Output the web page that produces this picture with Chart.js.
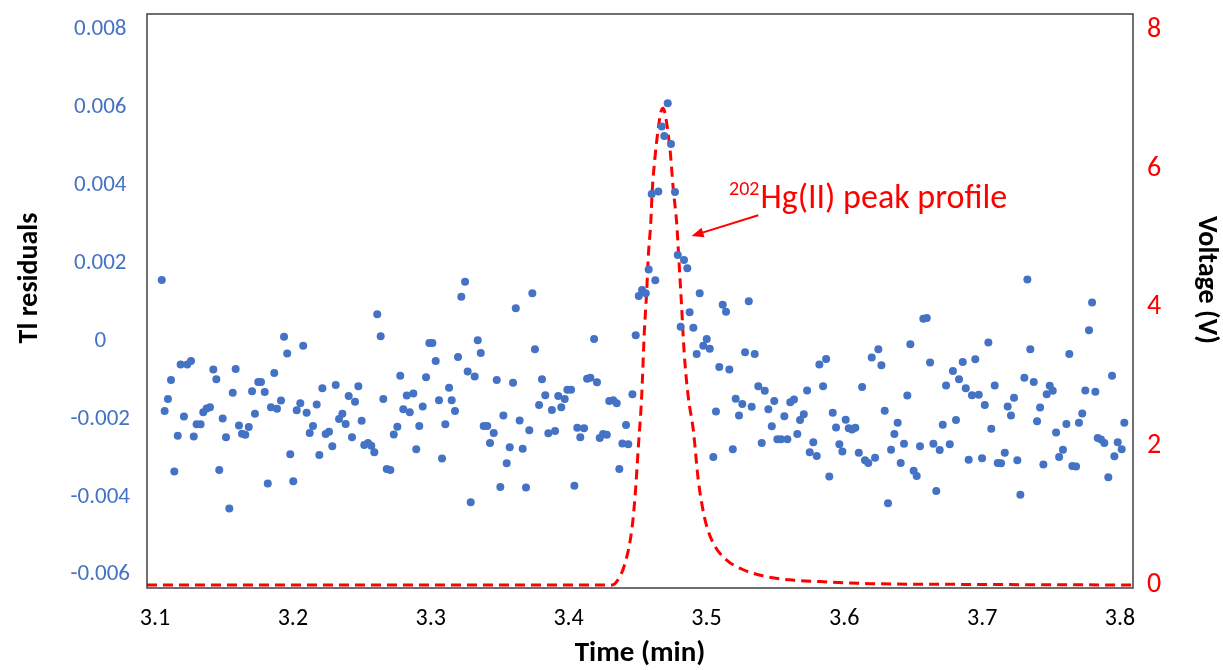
<!DOCTYPE html>
<html>
<head>
<meta charset="utf-8">
<script src="https://cdn.jsdelivr.net/npm/chart.js@4.4.1/dist/chart.umd.min.js"></script>
<style>
  html, body { margin: 0; padding: 0; background: #fff; }
  #wrap { width: 1223px; height: 670px; }
</style>
</head>
<body>
<div id="wrap"><canvas id="chart" width="1223" height="670"></canvas></div>
<script>
// tick labels
const timeTicks = [3.1, 3.2, 3.3, 3.4, 3.5, 3.6, 3.7, 3.8];
const residualTicks = [-0.006, -0.004, -0.002, 0, 0.002, 0.004, 0.006, 0.008];
const voltageTicks = [0, 2, 4, 6, 8];

// Tl residuals (scatter)
const residualTime = [
  3.1049, 3.2612, 3.2637, 3.1936, 3.2075, 3.1959, 3.1186, 3.1234, 3.1261, 3.1423,
  3.1585, 3.1865, 3.1116, 3.1445, 3.1749, 3.1769, 3.2214, 3.2311, 3.2475, 3.1564,
  3.1704, 3.1796, 3.1094, 3.2656, 3.2405, 3.2451, 3.1914, 3.1841, 3.1885, 3.2054,
  3.2173, 3.2028, 3.2100, 3.1070, 3.1350, 3.1375, 3.1399, 3.1725, 3.1210, 3.1491,
  3.2359, 3.2335, 3.2499, 3.1302, 3.1331, 3.1609, 3.1680, 3.2146, 3.2383, 3.1165,
  3.1281, 3.1515, 3.1631, 3.1655, 3.2122, 3.2238, 3.2262, 3.2429, 3.2286, 3.2518,
  3.2545, 3.2569, 3.2591, 3.1981, 3.2192, 3.1140, 3.1466, 3.2681, 3.2003, 3.1818,
  3.1539, 3.3249, 3.3222, 3.3737, 3.3617, 3.4185, 3.3756, 3.2990, 3.3012, 3.3341,
  3.3363, 3.3036, 3.3198, 3.3268, 3.3319, 3.2779, 3.2966, 3.3479, 3.3597, 3.3807,
  3.4134, 3.4158, 3.4206, 3.3133, 3.3991, 3.4018, 3.2826, 3.2874, 3.3060, 3.3152,
  3.3831, 3.3925, 3.3972, 3.4295, 3.4324, 3.4349, 3.4463, 3.2801, 3.2848, 3.2942,
  3.3176, 3.3786, 3.3879, 3.3947, 3.3527, 3.3645, 3.2758, 3.2732, 3.2917, 3.3106,
  3.3384, 3.3410, 3.3457, 3.3715, 3.3853, 3.3902, 3.4063, 3.4112, 3.4085, 3.4226,
  3.4250, 3.4277, 3.4417, 3.3430, 3.3573, 3.3667, 3.4390, 3.4433, 3.2895, 3.3082,
  3.3551, 3.4368, 3.2707, 3.3505, 3.3691, 3.4042, 3.3290, 3.4719, 3.4676, 3.4694,
  3.4743, 3.4603, 3.4651, 3.4772, 3.4792, 3.4837, 3.4861, 3.4581, 3.4629, 3.4533,
  3.4509, 3.4560, 3.4951, 3.5118, 3.5142, 3.5307, 3.4878, 3.4813, 3.4905, 3.4487,
  3.5002, 3.4977, 3.5024, 3.4929, 3.5280, 3.5350, 3.5093, 3.5166, 3.5819, 3.5868,
  3.5376, 3.5423, 3.5846, 3.5730, 3.5212, 3.5260, 3.5328, 3.5492, 3.5608, 3.5635,
  3.5069, 3.5449, 3.5916, 3.5236, 3.5565, 3.5706, 3.5679, 3.6010, 3.5474, 3.5940,
  3.5514, 3.5541, 3.5587, 3.5659, 3.5401, 3.5775, 3.5964, 3.5191, 3.5749, 3.5800,
  3.5986, 3.5050, 3.5891, 3.7328, 3.7797, 3.7775, 3.6573, 3.6598, 3.7045, 3.7349,
  3.6479, 3.6247, 3.6199, 3.6269, 3.6622, 3.7632, 3.6950, 3.6859, 3.6788, 3.6832,
  3.7942, 3.6129, 3.6738, 3.6881, 3.7091, 3.7306, 3.7374, 3.7490, 3.7512, 3.7468,
  3.7748, 3.7821, 3.6457, 3.6926, 3.6975, 3.7019, 3.7231, 3.7185, 3.7420, 3.6293,
  3.7209, 3.7726, 3.6032, 3.6056, 3.6080, 3.6387, 3.6714, 3.6810, 3.7066, 3.7398,
  3.7611, 3.7702, 3.8031, 3.6363, 3.7536, 3.7838, 3.7862, 3.7886, 3.7983, 3.6105,
  3.6433, 3.6549, 3.6646, 3.6765, 3.6339, 3.6692, 3.7164, 3.7586, 3.8012, 3.6150,
  3.6174, 3.6223, 3.6409, 3.6902, 3.6999, 3.7113, 3.7137, 3.7255, 3.7444, 3.7558,
  3.7654, 3.7681, 3.7959, 3.6503, 3.6525, 3.7915, 3.6667, 3.7277, 3.6317
];
const residualValue = [
  0.00157, 0.00069, 0.00012, 0.00011, -0.00012, -0.00032, -0.00060, -0.00060, -0.00051, -0.00073,
  -0.00072, -0.00082, -0.00100, -0.00098, -0.00105, -0.00105, -0.00121, -0.00113, -0.00116, -0.00133,
  -0.00129, -0.00131, -0.00149, -0.00149, -0.00141, -0.00156, -0.00153, -0.00170, -0.00174, -0.00160,
  -0.00163, -0.00178, -0.00184, -0.00180, -0.00183, -0.00173, -0.00170, -0.00187, -0.00194, -0.00199,
  -0.00187, -0.00200, -0.00205, -0.00214, -0.00214, -0.00217, -0.00221, -0.00218, -0.00213, -0.00243,
  -0.00245, -0.00247, -0.00238, -0.00241, -0.00236, -0.00239, -0.00233, -0.00247, -0.00270, -0.00267,
  -0.00262, -0.00269, -0.00286, -0.00291, -0.00293, -0.00335, -0.00331, -0.00329, -0.00360, -0.00366,
  -0.00430, 0.00152, 0.00114, 0.00123, 0.00084, 0.00005, -0.00021, -0.00005, -0.00005, 0.00002,
  -0.00031, -0.00051, -0.00041, -0.00078, -0.00091, -0.00089, -0.00093, -0.00100, -0.00107, -0.00098,
  -0.00097, -0.00094, -0.00106, -0.00120, -0.00125, -0.00125, -0.00140, -0.00135, -0.00152, -0.00152,
  -0.00139, -0.00141, -0.00149, -0.00154, -0.00152, -0.00160, -0.00137, -0.00175, -0.00183, -0.00168,
  -0.00180, -0.00164, -0.00177, -0.00170, -0.00191, -0.00204, -0.00220, -0.00240, -0.00218, -0.00214,
  -0.00218, -0.00218, -0.00236, -0.00229, -0.00237, -0.00231, -0.00223, -0.00224, -0.00247, -0.00249,
  -0.00239, -0.00241, -0.00216, -0.00262, -0.00273, -0.00277, -0.00263, -0.00265, -0.00278, -0.00302,
  -0.00314, -0.00329, -0.00331, -0.00375, -0.00376, -0.00372, -0.00414, 0.00611, 0.00551, 0.00527,
  0.00506, 0.00378, 0.00384, 0.00383, 0.00221, 0.00208, 0.00187, 0.00184, 0.00156, 0.00131,
  0.00116, 0.00123, 0.00123, 0.00093, 0.00075, 0.00102, 0.00074, 0.00037, 0.00034, 0.00015,
  0.00005, -0.00012, -0.00020, -0.00033, -0.00029, -0.00033, -0.00067, -0.00073, -0.00060, -0.00046,
  -0.00116, -0.00128, -0.00116, -0.00127, -0.00148, -0.00162, -0.00169, -0.00154, -0.00157, -0.00150,
  -0.00181, -0.00175, -0.00184, -0.00191, -0.00193, -0.00188, -0.00203, -0.00202, -0.00219, -0.00222,
  -0.00252, -0.00252, -0.00252, -0.00239, -0.00262, -0.00260, -0.00265, -0.00278, -0.00286, -0.00295,
  -0.00284, -0.00298, -0.00348, 0.00158, 0.00099, 0.00028, 0.00057, 0.00059, -0.00004, -0.00021,
  -0.00008, -0.00021, -0.00042, -0.00062, -0.00055, -0.00033, -0.00047, -0.00054, -0.00077, -0.00098,
  -0.00089, -0.00118, -0.00114, -0.00121, -0.00114, -0.00094, -0.00105, -0.00115, -0.00128, -0.00137,
  -0.00127, -0.00130, -0.00140, -0.00139, -0.00138, -0.00164, -0.00146, -0.00168, -0.00171, -0.00179,
  -0.00191, -0.00186, -0.00224, -0.00227, -0.00223, -0.00210, -0.00215, -0.00203, -0.00225, -0.00206,
  -0.00213, -0.00210, -0.00210, -0.00239, -0.00235, -0.00249, -0.00253, -0.00262, -0.00260, -0.00287,
  -0.00264, -0.00270, -0.00264, -0.00265, -0.00279, -0.00280, -0.00287, -0.00279, -0.00278, -0.00306,
  -0.00313, -0.00300, -0.00313, -0.00305, -0.00301, -0.00313, -0.00314, -0.00306, -0.00317, -0.00298,
  -0.00321, -0.00322, -0.00296, -0.00333, -0.00347, -0.00350, -0.00385, -0.00395, -0.00417
];

// 202Hg(II) peak profile (dashed line, right axis)
const peakTime = [
  3.0942, 3.4315, 3.4349, 3.4409, 3.4458, 3.4482, 3.4506, 3.4530, 3.4549, 3.4567,
  3.4578, 3.4596, 3.4607, 3.4627, 3.4649, 3.4670, 3.4685, 3.4699, 3.4736, 3.4760,
  3.4784, 3.4803, 3.4820, 3.4832, 3.4844, 3.4868, 3.4905, 3.4941, 3.4990, 3.5050,
  3.5147, 3.5267, 3.5437, 3.5630, 3.5824, 3.6186, 3.6767, 3.8094
];
const peakVoltage = [
  0, 0, 0.05, 0.31, 0.79, 1.27, 1.99, 2.71, 3.63, 4.25,
  4.73, 5.22, 5.69, 6.17, 6.56, 6.82, 6.87, 6.80, 6.27, 5.69,
  5.22, 4.59, 4.01, 3.56, 3.20, 2.71, 2.23, 1.51, 0.94, 0.60,
  0.36, 0.22, 0.12, 0.07, 0.05, 0.02, 0.01, 0
];

// annotation anchors (time, voltage)
const peakLabel = { text: 'Hg(II) peak profile', sup: '202', at: [3.5164, 5.43] };
const peakArrow = { from: [3.5376, 5.33], to: [3.4892, 5.03] };

const FONT = 'Calibri, Carlito, Lato, sans-serif';
const BLUE = '#4472C4';
const RED = '#FF0000';

const frameAndText = {
    id: 'frameAndText',
    afterDraw(chart) {
        const { ctx, chartArea: a, scales } = chart;
        ctx.save();
        // plot frame
        ctx.strokeStyle = '#404040';
        ctx.lineWidth = 1.5;
        ctx.strokeRect(a.left, a.top, a.right - a.left, a.bottom - a.top);

        // axis titles
        ctx.fillStyle = '#000';
        ctx.font = `bold 29px ${FONT}`;
        ctx.textAlign = 'center';
        ctx.textBaseline = 'middle';
        ctx.fillText('Time (min)', (a.left + a.right) / 2, 654);

        ctx.font = `bold 28px ${FONT}`;
        ctx.save();
        ctx.translate(30, 278);
        ctx.rotate(-Math.PI / 2);
        ctx.fillText('Tl residuals', 0, 0);
        ctx.restore();

        ctx.save();
        ctx.translate(1206, 280);
        ctx.rotate(Math.PI / 2);
        ctx.fillText('Voltage (V)', 0, 0);
        ctx.restore();

        // peak label
        const x = scales.x, v = scales.yV;
        const lx = x.getPixelForValue(peakLabel.at[0]);
        const ly = v.getPixelForValue(peakLabel.at[1]);
        ctx.fillStyle = RED;
        ctx.textAlign = 'left';
        ctx.textBaseline = 'alphabetic';
        ctx.font = `20px ${FONT}`;
        ctx.fillText(peakLabel.sup, lx, ly - 13);
        const supW = ctx.measureText(peakLabel.sup).width;
        ctx.font = `34px ${FONT}`;
        ctx.fillText(peakLabel.text, lx + supW + 1, ly);

        // arrow
        const x1 = x.getPixelForValue(peakArrow.from[0]);
        const y1 = v.getPixelForValue(peakArrow.from[1]);
        const x2 = x.getPixelForValue(peakArrow.to[0]);
        const y2 = v.getPixelForValue(peakArrow.to[1]);
        const ang = Math.atan2(y2 - y1, x2 - x1);
        ctx.strokeStyle = RED;
        ctx.lineWidth = 2;
        ctx.beginPath();
        ctx.moveTo(x1, y1);
        ctx.lineTo(x2 - 8 * Math.cos(ang), y2 - 8 * Math.sin(ang));
        ctx.stroke();
        ctx.beginPath();
        ctx.moveTo(x2, y2);
        ctx.lineTo(x2 - 12 * Math.cos(ang) + 5 * Math.sin(ang), y2 - 12 * Math.sin(ang) - 5 * Math.cos(ang));
        ctx.lineTo(x2 - 12 * Math.cos(ang) - 5 * Math.sin(ang), y2 - 12 * Math.sin(ang) + 5 * Math.cos(ang));
        ctx.closePath();
        ctx.fill();
        ctx.restore();
    }
};

// keep the plot box where the reference has it
function noPad(s) {
    s.paddingTop = 0;
    s.paddingBottom = 0;
    s.paddingLeft = 0;
    s.paddingRight = 0;
}

new Chart(document.getElementById('chart'), {
    type: 'scatter',
    data: {
        datasets: [
            {
                label: 'Tl residuals',
                data: residualTime.map((t, i) => ({ x: t, y: residualValue[i] })),
                yAxisID: 'y',
                backgroundColor: BLUE,
                borderColor: BLUE,
                pointRadius: 4,
                borderWidth: 0,
                order: 1
            },
            {
                label: 'Voltage',
                type: 'line',
                data: peakTime.map((t, i) => ({ x: t, y: peakVoltage[i] })),
                yAxisID: 'yV',
                borderColor: RED,
                borderWidth: 3,
                borderDash: [10, 6],
                pointRadius: 0,
                fill: false,
                cubicInterpolationMode: 'monotone',
                order: 2
            }
        ]
    },
    options: {
        responsive: false,
        animation: false,
        devicePixelRatio: 1,
        layout: { padding: { top: 14, left: 0, right: 0, bottom: 0 } },
        plugins: { legend: { display: false }, tooltip: { enabled: false } },
        scales: {
            x: {
                type: 'linear',
                min: 3.0942,
                max: 3.8094,
                afterFit: s => { s.height = 82; noPad(s); },
                afterBuildTicks: s => { s.ticks = timeTicks.map(v => ({ value: v })); },
                grid: { display: false, drawTicks: false },
                border: { display: false },
                ticks: {
                    color: '#000',
                    padding: 17,
                    font: { family: FONT, size: 24 },
                    callback: v => v.toFixed(1)
                }
            },
            y: {
                position: 'left',
                min: -0.006344,
                max: 0.008401,
                afterFit: s => { s.width = 147; noPad(s); },
                afterBuildTicks: s => { s.ticks = residualTicks.map(v => ({ value: v })); },
                grid: { display: false, drawTicks: false },
                border: { display: false },
                ticks: {
                    color: BLUE,
                    padding: 17,
                    crossAlign: 'center',
                    font: { family: FONT, size: 23 },
                    callback: v => (v === 0 ? '0' : v.toFixed(3))
                }
            },
            yV: {
                position: 'right',
                min: -0.043,
                max: 8.23,
                afterFit: s => { s.width = 90; noPad(s); },
                afterBuildTicks: s => { s.ticks = voltageTicks.map(v => ({ value: v })); },
                grid: { display: false, drawTicks: false },
                border: { display: false },
                ticks: {
                    color: RED,
                    padding: 14,
                    font: { family: FONT, size: 28 },
                    callback: v => String(v)
                }
            }
        }
    },
    plugins: [frameAndText]
});
</script>
</body>
</html>
